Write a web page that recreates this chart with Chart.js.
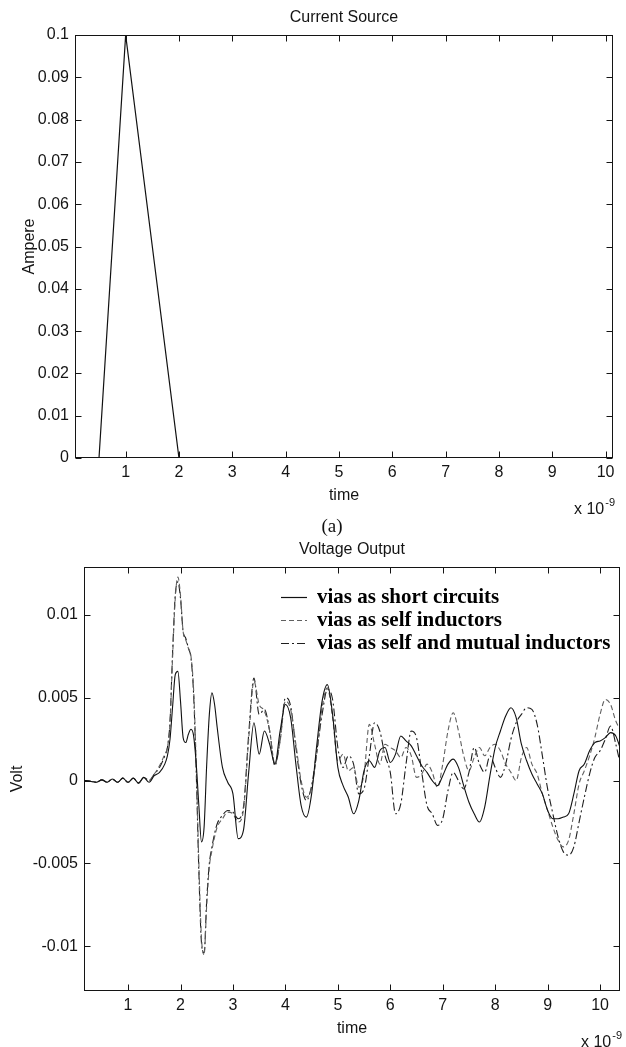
<!DOCTYPE html>
<html>
<head>
<meta charset="utf-8">
<script src="https://cdn.jsdelivr.net/npm/chart.js@4.4.1/dist/chart.umd.min.js"></script>
<style>
  html, body { margin: 0; padding: 0; background: #fff; }
  body { width: 626px; height: 1047px; position: relative; overflow: hidden; }
  canvas { position: absolute; left: 0; }
  #top { top: 0; }
  #bottom { top: 535px; }
  #caption {
    position: absolute; left: 332px; top: 526px;
    transform: translate(-50%, -50%);
    font: 19px "Liberation Serif", "Times New Roman", serif; color: #111;
  }
</style>
</head>
<body>
<canvas id="top" width="626" height="520"></canvas>
<div id="caption">(a)</div>
<canvas id="bottom" width="626" height="512"></canvas>
<script>
// ---- (a) current source ----
const sourceTimes = [0, 0.5, 1, 2, 10.2];
const sourceCurrent = [0, 0, 0.1, 0, 0];
const sourceYTicks = [0, 0.01, 0.02, 0.03, 0.04, 0.05, 0.06, 0.07, 0.08, 0.09, 0.1];
const sourceYLabels = ['0', '0.01', '0.02', '0.03', '0.04', '0.05', '0.06', '0.07', '0.08', '0.09', '0.1'];

// ---- voltage output (time in ns, volts) ----
const times = [
  0.15, 0.2, 0.3, 0.4, 0.5, 0.6, 0.7, 0.8, 0.9, 1.0, 1.1, 1.2, 1.3, 1.4, 1.5, 1.6, 1.7,
  1.75, 1.8, 1.85, 1.9, 1.95, 2.0, 2.05, 2.1, 2.15, 2.2, 2.25, 2.3, 2.35, 2.4, 2.45, 2.5, 2.55, 2.6, 2.65, 2.7,
  2.8, 2.9, 3.0, 3.1, 3.2, 3.3, 3.4, 3.5, 3.6, 3.7,
  3.8, 3.9, 4.0, 4.1, 4.2, 4.3, 4.4, 4.5, 4.6, 4.7,
  4.8, 4.9, 5.0, 5.1, 5.2, 5.3, 5.4, 5.5, 5.6, 5.7,
  5.8, 5.9, 6.0, 6.1, 6.2, 6.3, 6.4, 6.5, 6.6, 6.7,
  6.8, 6.9, 7.0, 7.1, 7.2, 7.3, 7.4, 7.5, 7.6, 7.7,
  7.8, 7.9, 8.0, 8.1, 8.2, 8.3, 8.4, 8.5, 8.6, 8.7,
  8.8, 8.9, 9.0, 9.1, 9.2, 9.3, 9.4, 9.5, 9.6, 9.7,
  9.8, 9.9, 10.0, 10.1, 10.2, 10.3, 10.4
];

const shortCircuits = [
  0, 0, -0.00005, -0.0001, 0.00005, -0.0001, 0.0001, -0.0001, 0.00015, -0.0001, 0.00015, -0.00015, 0.0002, -0.0001, 0.0003, 0.0005, 0.001,
  0.0015, 0.0025, 0.0045, 0.0064, 0.0066, 0.0048, 0.0026, 0.0023, 0.0028, 0.0031, 0.0027, 0.001, -0.0015, -0.0037, -0.0028, 0.001, 0.004, 0.0053, 0.0046, 0.0032,
  0.0008, -0.0001, -0.0008, -0.0035, -0.003, 0.0005, 0.0035, 0.0016, 0.003, 0.0022,
  0.001, 0.003, 0.0046, 0.0038, 0.001, -0.0015, -0.0022, -0.0008, 0.0022, 0.0048,
  0.0058, 0.004, 0.0008, -0.0003, -0.001, -0.002, -0.0012, 0.0006, 0.0012, 0.0008,
  0.0018, 0.002, 0.0011, 0.0016, 0.0027, 0.0024, 0.0021, 0.0015, 0.0009, 0.0005,
  0, -0.0003, 0.0003, 0.001, 0.0013, 0.0008, -0.0003, -0.0013, -0.002, -0.0025,
  -0.0016, 0.0003, 0.002, 0.003, 0.0039, 0.0044, 0.0038, 0.0022, 0.0012, 0.0004,
  -0.0002, -0.0008, -0.0018, -0.0023, -0.0023, -0.0022, -0.002, -0.0008, 0.0006, 0.001,
  0.0018, 0.0023, 0.0024, 0.0026, 0.0029, 0.0027, 0.0018
];

const selfInductors = [
  0, 0, -0.00005, -0.0001, 0.00005, -0.0001, 0.0001, -0.0001, 0.00015, -0.0001, 0.00015, -0.00015, 0.0002, 0, 0.0004, 0.0009, 0.0016,
  0.002, 0.0035, 0.0075, 0.011, 0.0123, 0.0112, 0.009, 0.0085, 0.008, 0.0075, 0.0055, 0.001, -0.005, -0.0095, -0.0105, -0.0075, -0.0052, -0.0042, -0.0034, -0.0028,
  -0.0023, -0.0019, -0.002, -0.0025, -0.0018, 0.0025, 0.006, 0.0046, 0.0042, 0.003,
  0.001, 0.0024, 0.0048, 0.0043, 0.0022, 0, -0.001, -0.0004, 0.0016, 0.0044,
  0.0056, 0.0038, 0.0012, 0.0016, 0.0006, 0.0008, -0.0004, 0.0004, 0.0034, 0.0022,
  0.001, 0.0022, 0.002, 0.0018, 0.0014, 0.002, 0.0015, 0.0002, 0.0004, 0.001,
  0.0005, -0.0004, 0.001, 0.003, 0.0041, 0.003, 0.0015, 0.0006, 0.0014, 0.002,
  0.0015, 0.002, 0.0022, 0.0018, 0.001, 0.0005, 0, 0.0014, 0.002, 0.001,
  0.0004, -0.0008, -0.0018, -0.0028, -0.0036, -0.004, -0.0036, -0.002, -0.0002, 0.0006,
  0.0015, 0.0026, 0.004, 0.0049, 0.0046, 0.0036, 0.003
];

const selfMutual = [
  0, 0, -0.00005, -0.0001, 0.00005, -0.0001, 0.0001, -0.0001, 0.00015, -0.0001, 0.00015, -0.00015, 0.0002, 0, 0.0004, 0.0008, 0.0015,
  0.002, 0.0036, 0.0078, 0.0112, 0.012, 0.011, 0.009, 0.0086, 0.008, 0.0074, 0.0052, 0.0005, -0.0055, -0.0098, -0.0104, -0.0072, -0.005, -0.004, -0.0032, -0.0026,
  -0.0021, -0.0018, -0.0019, -0.0023, -0.0016, 0.0028, 0.0062, 0.004, 0.0043, 0.003,
  0.0009, 0.0025, 0.005, 0.0045, 0.002, -0.0002, -0.0012, -0.0003, 0.0018, 0.004,
  0.0055, 0.0049, 0.002, 0.0008, 0.0015, 0.001, -0.0008, -0.0005, 0.0015, 0.0035,
  0.003, 0.0015, 0.0005, -0.002, -0.0014, 0.001, 0.003, 0.0026, 0.0005, -0.0015,
  -0.002, -0.0027, -0.0023, -0.0006, 0.0005, 0, -0.0005, 0.0005, 0.002, 0.001,
  0.0005, 0.0015, 0.0008, 0.0002, 0.001, 0.0025, 0.0035, 0.004, 0.0044, 0.0043,
  0.0034, 0.0015, -0.0005, -0.002, -0.0034, -0.0043, -0.0045, -0.004, -0.0025, -0.001,
  0.0004, 0.0014, 0.0018, 0.0025, 0.0033, 0.0022, 0.0008
];

const seriesLabels = ['vias as short circuits', 'vias as self inductors', 'vias as self and mutual inductors'];
const timeTicks = [1, 2, 3, 4, 5, 6, 7, 8, 9, 10];
const voltYTicks = [-0.01, -0.005, 0, 0.005, 0.01];
const voltYLabels = ['-0.01', '-0.005', '0', '0.005', '0.01'];

const SANS = '"Liberation Sans", Arial, Helvetica, sans-serif';
const SERIF = '"Liberation Serif", "Times New Roman", serif';
const INK = '#141414';

Chart.defaults.font.family = SANS;
Chart.defaults.font.size = 16;
Chart.defaults.color = INK;

function toPoints(xs, ys) {
  return xs.map((x, i) => ({ x: x, y: ys[i] }));
}

// MATLAB-like box, inward ticks, title, exponent and inline legend
const matlabFrame = {
  id: 'matlabFrame',
  afterDraw(chart, args, opts) {
    const { ctx, chartArea: a, scales: { x, y } } = chart;
    const L = Math.round(a.left) + 0.5, R = Math.round(a.right) - 0.5;
    const T = Math.round(a.top) + 0.5, B = Math.round(a.bottom) - 0.5;
    ctx.save();
    ctx.strokeStyle = INK;
    ctx.lineWidth = 1;
    ctx.setLineDash([]);
    ctx.strokeRect(L, T, R - L, B - T);
    ctx.beginPath();
    x.ticks.forEach(t => {
      const px = Math.round(x.getPixelForValue(t.value)) + 0.5;
      ctx.moveTo(px, B); ctx.lineTo(px, B - 6);
      ctx.moveTo(px, T); ctx.lineTo(px, T + 6);
    });
    y.ticks.forEach(t => {
      const py = Math.round(y.getPixelForValue(t.value)) + 0.5;
      ctx.moveTo(L, py); ctx.lineTo(L + 6, py);
      ctx.moveTo(R, py); ctx.lineTo(R - 6, py);
    });
    ctx.stroke();

    ctx.fillStyle = INK;
    ctx.font = '16px ' + SANS;
    ctx.textAlign = 'center';
    ctx.textBaseline = 'middle';
    ctx.fillText(opts.title, (a.left + a.right) / 2, a.top - 17);

    // x 10^-9
    ctx.textAlign = 'right';
    ctx.font = '11px ' + SANS;
    const expRight = a.right + 2;
    ctx.fillText(opts.exponent, expRight, a.bottom + opts.expOffset - 7);
    const ew = ctx.measureText(opts.exponent).width;
    ctx.font = '16px ' + SANS;
    ctx.fillText('x 10', expRight - ew - 1, a.bottom + opts.expOffset);

    if (opts.legend) {
      const lg = opts.legend;
      chart.data.datasets.forEach((ds, i) => {
        const ly = Math.round(a.top + lg.top + i * lg.gap) + 0.5;
        const lx = a.left + lg.left;
        ctx.strokeStyle = ds.borderColor;
        ctx.lineWidth = 1.2;
        ctx.setLineDash(ds.borderDash || []);
        ctx.beginPath();
        ctx.moveTo(lx, ly); ctx.lineTo(lx + lg.sample, ly);
        ctx.stroke();
        ctx.setLineDash([]);
        ctx.fillStyle = '#000';
        ctx.font = 'bold 21px ' + SERIF;
        ctx.textAlign = 'left';
        ctx.textBaseline = 'middle';
        ctx.fillText(ds.label, lx + lg.sample + 10, ly);
      });
    }
    ctx.restore();
  }
};

function axisX(min, max, height, titlePad) {
  return {
    type: 'linear', min: min, max: max,
    afterFit: s => { s.height = height; },
    afterBuildTicks: s => { s.ticks = timeTicks.map(v => ({ value: v })); },
    grid: { display: false, drawTicks: false },
    border: { display: false },
    ticks: { padding: 5, autoSkip: false, maxRotation: 0, callback: v => String(v) },
    title: { display: true, text: 'time', padding: { top: 0, bottom: titlePad } }
  };
}

function axisY(min, max, width, ticks, labels, title, titlePad) {
  return {
    min: min, max: max,
    afterFit: s => { s.width = width; },
    afterBuildTicks: s => { s.ticks = ticks.map(v => ({ value: v })); },
    grid: { display: false, drawTicks: false },
    border: { display: false },
    ticks: { padding: 6, autoSkip: false, callback: (v, i) => labels[i] },
    title: { display: true, text: title, padding: { top: titlePad, bottom: 0 } }
  };
}

new Chart(document.getElementById('top'), {
  type: 'line',
  data: {
    datasets: [{
      label: 'Current Source',
      data: toPoints(sourceTimes, sourceCurrent),
      borderColor: '#111', borderWidth: 1.2, pointRadius: 0, tension: 0
    }]
  },
  options: {
    responsive: false, animation: false, devicePixelRatio: 1,
    layout: { padding: { top: 35, right: 13, left: 0, bottom: 0 } },
    plugins: {
      legend: { display: false }, tooltip: { enabled: false }, title: { display: false },
      matlabFrame: { title: 'Current Source', exponent: '-9', expOffset: 52 }
    },
    scales: {
      x: axisX(0.05, 10.14, 62, 15),
      y: axisY(0, 0.1, 75, sourceYTicks, sourceYLabels, 'Ampere', 20)
    }
  },
  plugins: [matlabFrame]
});

new Chart(document.getElementById('bottom'), {
  type: 'line',
  data: {
    datasets: [
      { label: seriesLabels[0], data: toPoints(times, shortCircuits), borderColor: '#111', borderWidth: 1.1, borderDash: [] },
      { label: seriesLabels[1], data: toPoints(times, selfInductors), borderColor: '#606060', borderWidth: 1.1, borderDash: [5, 3] },
      { label: seriesLabels[2], data: toPoints(times, selfMutual), borderColor: '#1e1e1e', borderWidth: 1.1, borderDash: [8, 3, 2, 3] }
    ]
  },
  options: {
    responsive: false, animation: false, devicePixelRatio: 1,
    layout: { padding: { top: 32, right: 6, left: 0, bottom: 0 } },
    elements: { point: { radius: 0 }, line: { cubicInterpolationMode: 'monotone' } },
    plugins: {
      legend: { display: false }, tooltip: { enabled: false }, title: { display: false },
      matlabFrame: {
        title: 'Voltage Output', exponent: '-9', expOffset: 52,
        legend: { left: 197, top: 30, gap: 23, sample: 26 }
      }
    },
    scales: {
      x: axisX(0.16, 10.38, 56, 9),
      y: axisY(-0.0127, 0.0129, 84, voltYTicks, voltYLabels, 'Volt', 8)
    }
  },
  plugins: [matlabFrame]
});
</script>
</body>
</html>
